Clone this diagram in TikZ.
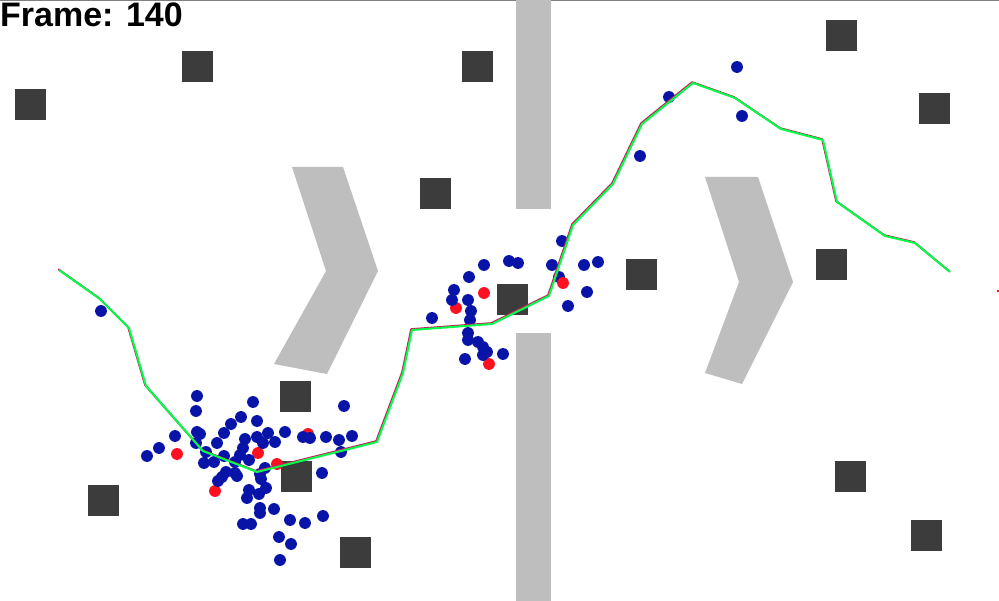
\documentclass[tikz,border=0pt]{standalone}
\usepackage{fontspec}
\setmainfont{Liberation Sans}
\definecolor{wallgray}{RGB}{190,190,190}
\definecolor{blockgray}{RGB}{60,60,60}
\definecolor{dotblue}{RGB}{8,20,168}
\definecolor{dotred}{RGB}{255,16,32}
\definecolor{pathgreen}{RGB}{0,255,72}
\definecolor{pathred}{RGB}{200,30,90}
\definecolor{topline}{RGB}{128,128,128}
\tikzset{
  wall/.style={fill=wallgray,draw=none},
  block/.style={fill=blockgray,draw=none},
  bdot/.style={fill=dotblue,draw=none},
  rdot/.style={fill=dotred,draw=none},
  trackA/.style={draw=pathred,line width=1.7pt,line join=round},
  trackB/.style={draw=pathgreen,line width=1.7pt,line join=round},
}
\begin{document}
\begin{tikzpicture}[x=0.03cm,y=-0.03cm]
\useasboundingbox[fill=white] (0,0) rectangle (999,601);
\draw[topline,line width=0.6pt] (0,0.4) -- (999,0.4);
% walls
\fill[wall] (516,0) rectangle (551,209);
\fill[wall] (516,333) rectangle (551,601);
\fill[wall] (292,167) -- (343,167) -- (378,271) -- (327,374) -- (274,364) -- (326,271) -- cycle;
\fill[wall] (705,177) -- (758,177) -- (793,282) -- (742,384) -- (705,373) -- (739,282) -- cycle;
% blocks
\foreach \cx/\cy in {197/67,477/67,841/36,30/105,934/109,435/194,641/275,831/265,512/300,295/397,296/477,103/501,355/553,850/477,926/536}
  \fill[block] (\cx-15.5,\cy-15.5) rectangle (\cx+15.5,\cy+15.5);
% dots
\foreach \px/\py in {177/454,258/453,277/464,215/491,308/434,484/293,456/308,489/364}
  \fill[rdot] (\px,\py) circle (0.178cm);
\foreach \px/\py in {197/396,196/411,253/402,344/406,241/417,231/424,257/421,175/436,197/432,200/434,196/443,224/433,217/443,245/439,257/437,268/433,263/443,275/442,285/432,303/437,310/438,326/437,339/440,352/436,341/452,159/448,147/456,206/452,204/463,214/462,224/456,243/448,240/455,249/460,235/462,265/468,260/474,261/479,235/473,226/472,222/477,218/481,237/476,322/473,249/490,247/498,259/494,266/488,260/508,260/513,274/509,243/524,251/524,290/520,305/523,323/516,279/537,291/544,280/560,
562/241,484/265,509/261,518/263,552/265,584/265,598/262,469/277,559/277,454/290,452/300,468/300,587/292,471/311,470/320,568/306,432/318,468/333,468/340,478/342,483/347,487/352,483/355,503/354,465/359,
101/311,640/156,669/97,737/67,742/116}
  \fill[bdot] (\px,\py) circle (0.178cm);
\fill[rdot] (563,283) circle (0.178cm);
\fill[rdot] (997,290) rectangle (999,292);
% track
\draw[trackA,shift={(-0.8,-0.8)}] (59,270) -- (100,299) -- (129,328) -- (146,386) -- (203,451) -- (257,472) -- (377,442) -- (403,373) -- (412,330) -- (492,324) -- (549,296) -- (573,225) -- (613,184) -- (642,124) -- (693,83) -- (735,98) -- (781,129) -- (823,140) -- (837,202) -- (885,236) -- (915,243) -- (950,272);
\draw[trackB] (59,270) -- (100,299) -- (129,328) -- (146,386) -- (203,451) -- (257,472) -- (377,442) -- (403,373) -- (412,330) -- (492,324) -- (549,296) -- (573,225) -- (613,184) -- (642,124) -- (693,83) -- (735,98) -- (781,129) -- (823,140) -- (837,202) -- (885,236) -- (915,243) -- (950,272);
% label
\node[anchor=base west,inner sep=0pt,font=\fontsize{29}{30}\selectfont\bfseries] (frame) at (0,27) {Frame: 140};
\end{tikzpicture}
\end{document}
